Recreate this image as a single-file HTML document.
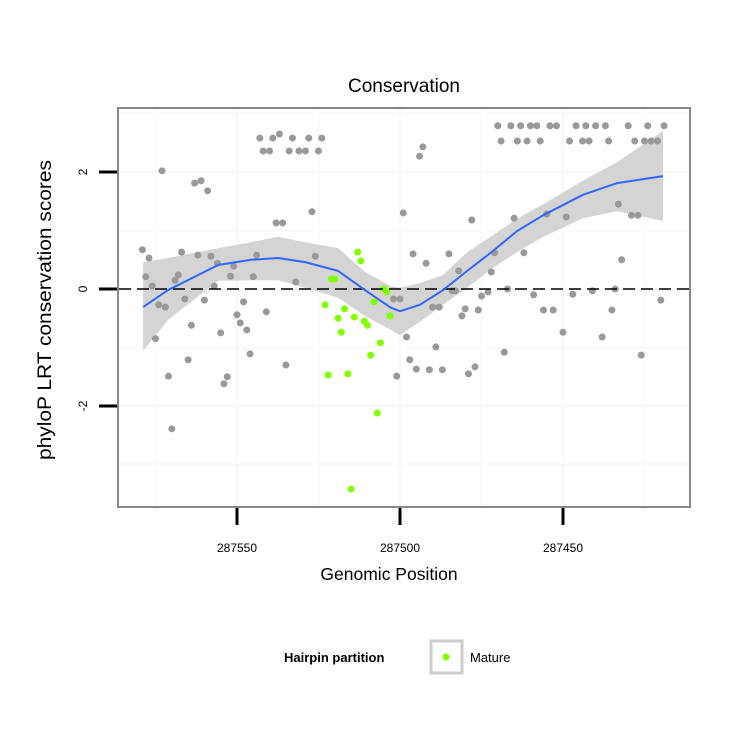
<!DOCTYPE html>
<html><head><meta charset="utf-8"><style>
body{margin:0;background:#fff;}
svg text{font-family:"Liberation Sans",sans-serif;}
</style></head><body>
<svg id="chart" width="750" height="750" xmlns="http://www.w3.org/2000/svg">
<rect width="750" height="750" fill="#fff"/>
<text x="404" y="92" font-size="19" text-anchor="middle">Conservation</text>
<g id="grid"></g>
<g id="band"></g>
<g id="pts"></g>
<line x1="119" y1="289" x2="689" y2="289" stroke="#000" stroke-width="1.6" stroke-dasharray="12,6"/>
<g id="fit"></g>
<rect x="118" y="108" width="572" height="399" fill="none" stroke="#888" stroke-width="2"/>
<g id="axes"></g>
<text x="389" y="580" font-size="17.5" text-anchor="middle">Genomic Position</text>
<text transform="translate(51,310) rotate(-90)" font-size="19" text-anchor="middle" textLength="300" lengthAdjust="spacingAndGlyphs">phyloP LRT conservation scores</text>
<g>
<text x="284" y="662" font-size="13" font-weight="bold">Hairpin partition</text>
<rect x="431" y="641" width="31" height="32" fill="#fff" stroke="#ccc" stroke-width="3"/>
<circle cx="446" cy="657" r="3.5" fill="#7fff00"/>
<text x="470" y="662" font-size="13">Mature</text>
</g>
</svg>
<script>
const grayPos=[287543,287539,287537,287533,287528,287524,287542,287540,287534,287531,287529,287525,287573,287563,287561,287559,287527,287538,287536,287499,287579,287577,287567,287562,287558,287544,287526,287556,287551,287578,287576,287568,287569,287552,287545,287557,287532,287574,287572,287566,287560,287548,287541,287550,287549,287547,287564,287555,287575,287546,287565,287535,287571,287553,287554,287570,287502,287500,287498,287497,287501,
287470,287466,287463,287460,287458,287454,287452,287446,287443,287440,287437,287430,287424,287419,
287469,287464,287461,287457,287448,287444,287442,287436,287428,287425,287423,287421,
287493,287494,287478,287465,287455,287449,287433,287429,287427,287496,287485,287492,287471,287462,287432,287482,287472,287484,287483,287475,287473,287467,287459,287447,287441,287434,287420,287490,287488,287480,287481,287476,287456,287453,287435,287489,287450,287438,287495,287491,287487,287477,287479,287468,287426];
const grayVal=[2.58,2.58,2.65,2.58,2.58,2.58,2.36,2.36,2.36,2.36,2.36,2.36,2.02,1.81,1.85,1.68,1.32,1.13,1.13,1.30,0.67,0.53,0.63,0.58,0.56,0.58,0.56,0.44,0.39,0.21,0.05,0.24,0.15,0.22,0.21,0.05,0.12,-0.27,-0.31,-0.17,-0.19,-0.22,-0.39,-0.44,-0.58,-0.70,-0.62,-0.75,-0.85,-1.11,-1.21,-1.30,-1.49,-1.50,-1.62,-2.39,-0.17,-0.17,-0.82,-1.21,-1.49,
2.79,2.79,2.79,2.79,2.79,2.79,2.79,2.79,2.79,2.79,2.79,2.79,2.79,2.79,
2.53,2.53,2.53,2.53,2.53,2.53,2.53,2.53,2.53,2.53,2.53,2.53,
2.43,2.27,1.18,1.21,1.28,1.23,1.45,1.26,1.26,0.60,0.60,0.44,0.62,0.62,0.50,0.31,0.29,-0.03,-0.03,-0.12,-0.05,0,-0.10,-0.09,-0.03,0,-0.19,-0.31,-0.31,-0.34,-0.46,-0.36,-0.36,-0.36,-0.36,-0.99,-0.74,-0.82,-1.37,-1.38,-1.38,-1.33,-1.45,-1.08,-1.13];
const maturePos=[287513,287512,287521,287520,287523,287517,287519,287514,287511,287510,287518,287505,287504,287508,287503,287506,287509,287522,287516,287507,287515];
const matureVal=[0.63,0.48,0.17,0.17,-0.27,-0.34,-0.50,-0.48,-0.55,-0.62,-0.74,0,-0.05,-0.22,-0.46,-0.92,-1.13,-1.47,-1.45,-2.12,-3.42];
const fitPos=[287578.8,287571.2,287555.8,287545.7,287537.4,287529.1,287519,287510.7,287502.8,287500,287493.9,287486.8,287479.4,287471.5,287464.1,287456.1,287443.9,287433.4,287419.3];
const fitVal=[-0.31,-0.02,0.41,0.50,0.53,0.46,0.31,-0.02,-0.32,-0.38,-0.27,-0.02,0.31,0.65,0.99,1.26,1.61,1.81,1.93];
const fitHi=[0.46,0.53,0.70,0.80,0.89,0.80,0.70,0.29,0.05,0.02,0.10,0.24,0.63,0.92,1.20,1.45,1.85,2.17,2.70];
const fitLo=[-1.06,-0.53,0.14,0.15,0.15,0.02,-0.15,-0.46,-0.70,-0.79,-0.56,-0.27,0.02,0.36,0.63,0.89,1.21,1.33,1.16];
const xTicks=[287550,287500,287450];
const xMinor=[287575,287525,287475,287425];
const yTicks=[2,0,-2];
const yMinor=[3,1,-1,-3];

const NS='http://www.w3.org/2000/svg';
const X=p=>400+(287500-p)*3.26;
const Y=v=>289-v*58.5;
function mk(tag,attrs,parent){const e=document.createElementNS(NS,tag);for(const k in attrs)e.setAttribute(k,attrs[k]);parent.appendChild(e);return e;}
const grid=document.getElementById('grid');
yMinor.forEach(v=>{const l=mk('line',{x1:119,x2:689,y1:Y(v),y2:Y(v),stroke:'#fbfbfb','stroke-width':3},grid);

});
xMinor.forEach(p=>{const l=mk('line',{x1:X(p),x2:X(p),y1:109,y2:506,stroke:'#fbfbfb','stroke-width':3},grid);

});
yTicks.forEach(v=>{const l=mk('line',{x1:119,x2:689,y1:Y(v),y2:Y(v),stroke:'#f9f9f9','stroke-width':3},grid);

});
xTicks.forEach(p=>{const l=mk('line',{x1:X(p),x2:X(p),y1:109,y2:506,stroke:'#f9f9f9','stroke-width':3},grid);

});

const band=document.getElementById('band');
let d='';
fitPos.forEach((p,i)=>{d+=(i?'L':'M')+X(p).toFixed(1)+','+Y(fitHi[i]).toFixed(1);});
for(let i=fitPos.length-1;i>=0;i--)d+='L'+X(fitPos[i]).toFixed(1)+','+Y(fitLo[i]).toFixed(1);
const bp=mk('path',{d:d+'Z',fill:'#d4d4d4'},band);



const pts=document.getElementById('pts');
grayPos.forEach((p,i)=>{const c=mk('circle',{cx:X(p),cy:Y(grayVal[i]),r:3.5,fill:'#999'},pts);

});
maturePos.forEach((p,i)=>{const c=mk('circle',{cx:X(p),cy:Y(matureVal[i]),r:3.5,fill:'#7fff00'},pts);

});

const fit=document.getElementById('fit');
let fd='';
fitPos.forEach((p,i)=>{fd+=(i?'L':'M')+X(p).toFixed(1)+','+Y(fitVal[i]).toFixed(1);});
const fl=mk('path',{d:fd,fill:'none',stroke:'#3366ff','stroke-width':2,'stroke-linejoin':'round'},fit);



const axes=document.getElementById('axes');
xTicks.forEach(p=>{const t=mk('line',{x1:X(p),x2:X(p),y1:508,y2:525,stroke:'#000','stroke-width':3},axes);


const tx=mk('text',{x:X(p),y:552,'font-size':12,'text-anchor':'middle'},axes);tx.textContent=p;

});
yTicks.forEach(v=>{const t=mk('line',{x1:99,x2:117,y1:Y(v),y2:Y(v),stroke:'#000','stroke-width':3},axes);


const tx=mk('text',{transform:'translate(87,'+Y(v)+') rotate(-90)','font-size':12,'text-anchor':'middle'},axes);tx.textContent=v;

});
</script>
</body></html>
